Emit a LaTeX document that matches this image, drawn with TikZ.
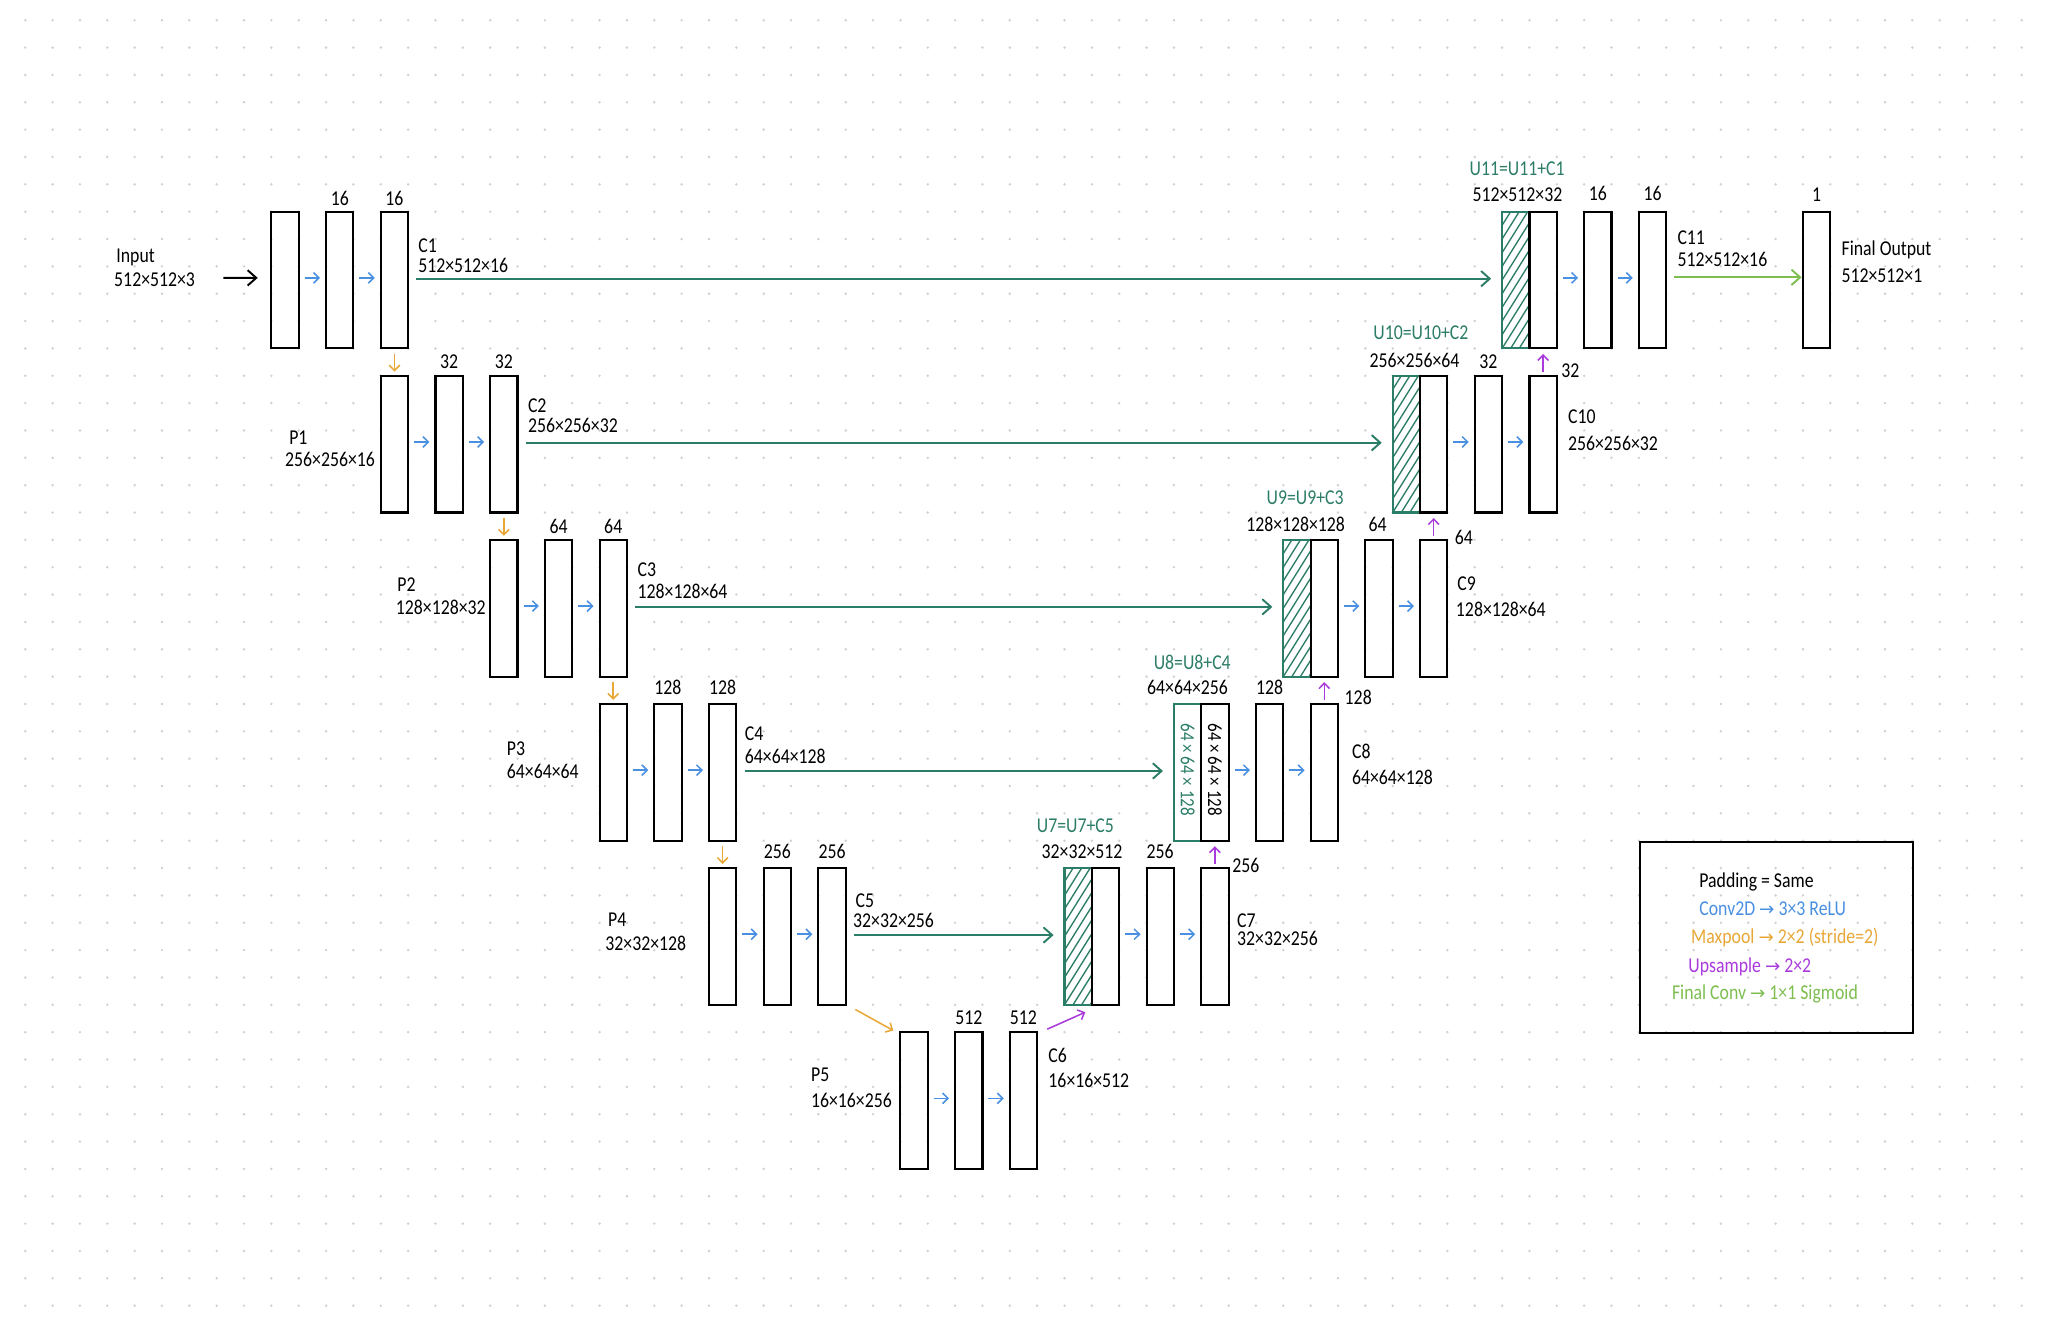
\documentclass[tikz,border=0pt]{standalone}
\usepackage{fontspec}
\setmainfont{Carlito}[FakeStretch=0.84]
\newfontfamily\symfont{DejaVu Sans}
\usetikzlibrary{arrows.meta,calc}
\definecolor{skipc}{HTML}{2C7D67}
\definecolor{convc}{HTML}{4A90E2}
\definecolor{poolc}{HTML}{E8A838}
\definecolor{upc}{HTML}{A93BDB}
\definecolor{finc}{HTML}{7EBE50}
\definecolor{dotc}{HTML}{D0D0D0}
\newcommand{\arrw}{{\symfont\fontsize{9.5pt}{10pt}\selectfont →}}
\begin{document}
\begin{tikzpicture}[x=0.5cm,y=-0.5cm,
  font=\fontsize{11pt}{13pt}\selectfont,
  blk/.style={draw=black,line width=1.1pt,minimum width=0.5cm,minimum height=2.5cm,inner sep=0pt,outer sep=0pt,anchor=north west},
  tealbox/.style={blk,draw=skipc},
  hatchbox/.style={blk,draw=skipc,path picture={
     \foreach \k in {1,...,14}{
       \draw[skipc,line width=0.7pt] ([yshift=-\k*0.25cm]path picture bounding box.north west) -- ++(0.5cm,0.8cm);
     }}},
  txt/.style={inner sep=0pt,anchor=west},
  etxt/.style={inner sep=0pt,anchor=east},
  ctxt/.style={inner sep=0pt},
  ulbl/.style={ctxt,text=skipc},
  convarr/.style={draw=convc,line width=0.8pt,-{Straight Barb[length=2.8pt,width=5.5pt]}},
  poolarr/.style={draw=poolc,line width=0.8pt,-{Straight Barb[length=2.8pt,width=5.5pt]}},
  uparr/.style={draw=upc,line width=0.8pt,-{Straight Barb[length=2.8pt,width=5.5pt]}},
  skiparr/.style={draw=skipc,line width=1pt,-{Straight Barb[length=4.5pt,width=8pt]}},
  finarr/.style={draw=finc,line width=1pt,-{Straight Barb[length=4.5pt,width=8pt]}},
  inarr/.style={draw=black,line width=1pt,-{Straight Barb[length=4.5pt,width=8pt]}},
]
% background and bounding box
\useasboundingbox (-0.923,-0.740) rectangle (73.961,47.742);
\fill[white] (-0.923,-0.740) rectangle (73.961,47.742);
\foreach \i in {0,...,73}{\foreach \j in {0,...,47}{\fill[dotc] (\i,\j) circle[radius=0.7pt];}}

% ---------- encoder boxes ----------
\node[blk] (r1a) at (9,7) {};
\node[blk] (r1b) at (11,7) {};
\node[blk] (r1c) at (13,7) {};
\node[blk] (r2a) at (13,13) {};
\node[blk] (r2b) at (15,13) {};
\node[blk] (r2c) at (17,13) {};
\node[blk] (r3a) at (17,19) {};
\node[blk] (r3b) at (19,19) {};
\node[blk] (r3c) at (21,19) {};
\node[blk] (r4a) at (21,25) {};
\node[blk] (r4b) at (23,25) {};
\node[blk] (r4c) at (25,25) {};
\node[blk] (r5a) at (25,31) {};
\node[blk] (r5b) at (27,31) {};
\node[blk] (r5c) at (29,31) {};
\node[blk] (r6a) at (32,37) {};
\node[blk] (r6b) at (34,37) {};
\node[blk] (r6c) at (36,37) {};

% ---------- decoder boxes ----------
\node[hatchbox] (d5h) at (38,31) {};
\node[blk] (d5w) at (39,31) {};
\node[blk] (d5a) at (41,31) {};
\node[blk] (d5b) at (43,31) {};
\node[tealbox] (d4h) at (42,25) {};
\node[blk] (d4w) at (43,25) {};
\node[blk] (d4a) at (45,25) {};
\node[blk] (d4b) at (47,25) {};
\node[hatchbox] (d3h) at (46,19) {};
\node[blk] (d3w) at (47,19) {};
\node[blk] (d3a) at (49,19) {};
\node[blk] (d3b) at (51,19) {};
\node[hatchbox] (d2h) at (50,13) {};
\node[blk] (d2w) at (51,13) {};
\node[blk] (d2a) at (53,13) {};
\node[blk] (d2b) at (55,13) {};
\node[hatchbox] (d1h) at (54,7) {};
\node[blk] (d1w) at (55,7) {};
\node[blk] (d1a) at (57,7) {};
\node[blk] (d1b) at (59,7) {};
\node[blk] (fo) at (65,7) {};

\node[ctxt,rotate=-90,text=skipc,font=\fontsize{10.5pt}{12pt}\selectfont] (d4ht) at ([shift={(0,-0.1)}]d4h.center) {64 × 64 × 128};
\node[ctxt,rotate=-90,font=\fontsize{10.5pt}{12pt}\selectfont] (d4wt) at ([shift={(0,-0.1)}]d4w.center) {64 × 64 × 128};

% ---------- conv arrows ----------
\foreach \a/\b in {r1a/r1b,r1b/r1c,r2a/r2b,r2b/r2c,r3a/r3b,r3b/r3c,r4a/r4b,r4b/r4c,r5a/r5b,r5b/r5c,r6a/r6b,r6b/r6c,
  d5w/d5a,d5a/d5b,d4w/d4a,d4a/d4b,d3w/d3a,d3a/d3b,d2w/d2a,d2a/d2b,d1w/d1a,d1a/d1b}{
  \draw[convarr] ($(\a.east)!0.22!(\b.west)+(0,-0.08)$) -- ($(\a.east)!0.78!(\b.west)+(0,-0.08)$);
}

% ---------- pool arrows ----------
\foreach \a/\b in {r1c/r2a,r2c/r3a,r3c/r4a,r4c/r5a}{
  \draw[poolarr] ([shift={(0,0.2)}]\a.south) -- ([shift={(0,-0.15)}]\b.north);
}
\draw[poolarr] ([shift={(0.35,0.17)}]r5c.south east) -- ([shift={(-0.26,-0.06)}]r6a.north west);

% ---------- upsample arrows ----------
\foreach \a/\b in {d5b/d4w,d4b/d3w,d3b/d2w,d2b/d1w}{
  \draw[uparr] ([shift={(0,-0.15)}]\a.north) -- ([shift={(0,0.2)}]\b.south);
}
\draw[uparr] ([shift={(0.37,-0.11)}]r6c.north east) -- ([shift={(0.76,0.27)}]d5h.south west);

% ---------- skip connections ----------
\foreach \a/\b in {r1c/d1h,r2c/d2h,r3c/d3h,r4c/d4h,r5c/d5h}{
  \draw[skiparr] ([shift={(0.3,-0.05)}]\a.east) -- ([shift={(-0.4,-0.05)}]\b.west);
}

% ---------- final conv and input ----------
\draw[finarr] ([shift={(0.3,-0.1)}]d1b.east) -- ([shift={(-0.05,-0.1)}]fo.west);
\coordinate (instart) at (7.24,9.42);
\draw[inarr] (instart) -- ([shift={(-0.5,-0.08)}]r1a.west);

% ---------- labels row 1 ----------
\node[txt] (tin1) at (3.32,8.69) {Input};
\node[txt] (tin2) at (3.24,9.48) {512×512×3};
\node[ctxt] (t1b) at (11.5,6.5) {16};
\node[ctxt] (t1c) at (13.5,6.5) {16};
\node[txt] (tc1a) at (14.36,8.24) {C1};
\node[txt] (tc1b) at (14.36,8.95) {512×512×16};
\node[ulbl] (tu11a) at (54.55,5.42) {U11=U11+C1};
\node[ctxt] (tu11b) at (54.56,6.37) {512×512×32};
\node[ctxt] (td1a) at (57.5,6.35) {16};
\node[ctxt] (td1b) at (59.5,6.35) {16};
\node[txt] (tc11a) at (60.4,7.95) {C11};
\node[txt] (tc11b) at (60.4,8.76) {512×512×16};
\node[ctxt] (tfo) at (65.5,6.37) {1};
\node[txt] (tfo1) at (66.4,8.38) {Final Output};
\node[txt] (tfo2) at (66.4,9.33) {512×512×1};

% ---------- labels row 2 ----------
\node[ctxt] (t2b) at (15.5,12.5) {32};
\node[ctxt] (t2c) at (17.5,12.5) {32};
\node[etxt] (tp1b) at (12.8,16.05) {256×256×16};
\node[txt] (tp1a) at ([shift={(0.15,-0.78)}]tp1b.west) {P1};
\node[txt] (tc2a) at (18.37,14.1) {C2};
\node[txt] (tc2b) at (18.37,14.83) {256×256×32};
\node[ulbl] (tu10a) at (51.03,11.44) {U10=U10+C2};
\node[ctxt] (tu10b) at (50.8,12.44) {256×256×64};
\node[ctxt] (td2a) at (53.5,12.5) {32};
\node[ctxt] (td2b) at (56.5,12.82) {32};
\node[txt] (tc10a) at (56.4,14.49) {C10};
\node[txt] (tc10b) at (56.4,15.48) {256×256×32};

% ---------- labels row 3 ----------
\node[ctxt] (t3b) at (19.5,18.5) {64};
\node[ctxt] (t3c) at (21.5,18.5) {64};
\node[etxt] (tp2b) at (16.85,21.46) {128×128×32};
\node[txt] (tp2a) at ([shift={(0.05,-0.81)}]tp2b.west) {P2};
\node[txt] (tc3a) at (22.38,20.08) {C3};
\node[txt] (tc3b) at (22.38,20.89) {128×128×64};
\node[ulbl] (tu9a) at (46.8,17.45) {U9=U9+C3};
\node[ctxt] (tu9b) at (46.45,18.45) {128×128×128};
\node[ctxt] (td3a) at (49.45,18.45) {64};
\node[ctxt] (td3b) at (52.6,18.9) {64};
\node[txt] (tc9a) at (52.35,20.62) {C9};
\node[txt] (tc9b) at (52.3,21.53) {128×128×64};

% ---------- labels row 4 ----------
\node[ctxt] (t4b) at (23.5,24.4) {128};
\node[ctxt] (t4c) at (25.5,24.4) {128};
\node[txt] (tp3b) at (17.6,27.48) {64×64×64};
\node[txt] (tp3a) at ([shift={(0,-0.86)}]tp3b.west) {P3};
\node[txt] (tc4a) at (26.3,26.1) {C4};
\node[txt] (tc4b) at (26.3,26.9) {64×64×128};
\node[ulbl] (tu8a) at (42.67,23.47) {U8=U8+C4};
\node[ctxt] (tu8b) at (42.5,24.4) {64×64×256};
\node[ctxt] (td4a) at (45.5,24.4) {128};
\node[ctxt] (td4b) at (48.74,24.76) {128};
\node[txt] (tc8a) at (48.5,26.72) {C8};
\node[txt] (tc8b) at (48.5,27.67) {64×64×128};

% ---------- labels row 5 ----------
\node[ctxt] (t5b) at (27.5,30.4) {256};
\node[ctxt] (t5c) at (29.5,30.4) {256};
\node[txt] (tp4b) at (21.2,33.74) {32×32×128};
\node[txt] (tp4a) at ([shift={(0.1,-0.87)}]tp4b.west) {P4};
\node[txt] (tc5a) at (30.35,32.2) {C5};
\node[txt] (tc5b) at (30.26,32.92) {32×32×256};
\node[ulbl] (tu7a) at (38.4,29.44) {U7=U7+C5};
\node[ctxt] (tu7b) at (38.64,30.4) {32×32×512};
\node[ctxt] (td5a) at (41.5,30.4) {256};
\node[ctxt] (td5b) at (44.63,30.92) {256};
\node[txt] (tc7a) at (44.3,32.92) {C7};
\node[txt] (tc7b) at (44.3,33.56) {32×32×256};

% ---------- labels row 6 ----------
\node[ctxt] (t6b) at (34.5,36.46) {512};
\node[ctxt] (t6c) at (36.5,36.46) {512};
\node[etxt] (tp5b) at (31.7,39.5) {16×16×256};
\node[txt] (tp5a) at ([shift={(0,-0.94)}]tp5b.west) {P5};
\node[txt] (tc6a) at (37.4,37.84) {C6};
\node[txt] (tc6b) at (37.4,38.75) {16×16×512};

% ---------- legend ----------
\node[draw=black,line width=1.1pt,minimum width=5cm,minimum height=3.5cm,anchor=north west,inner sep=0pt] (lg) at (59,30) {};
\node[txt] (lg1) at (61.2,31.5) {Padding = Same};
\node[txt,text=convc] (lg2) at (61.2,32.5) {Conv2D \arrw{} 3×3 ReLU};
\node[txt,text=poolc] (lg3) at (60.9,33.55) {Maxpool \arrw{} 2×2 (stride=2)};
\node[txt,text=upc] (lg4) at (60.8,34.6) {Upsample \arrw{} 2×2};
\node[txt,text=finc] (lg5) at (60.2,35.6) {Final Conv \arrw{} 1×1 Sigmoid};
\end{tikzpicture}
\end{document}
